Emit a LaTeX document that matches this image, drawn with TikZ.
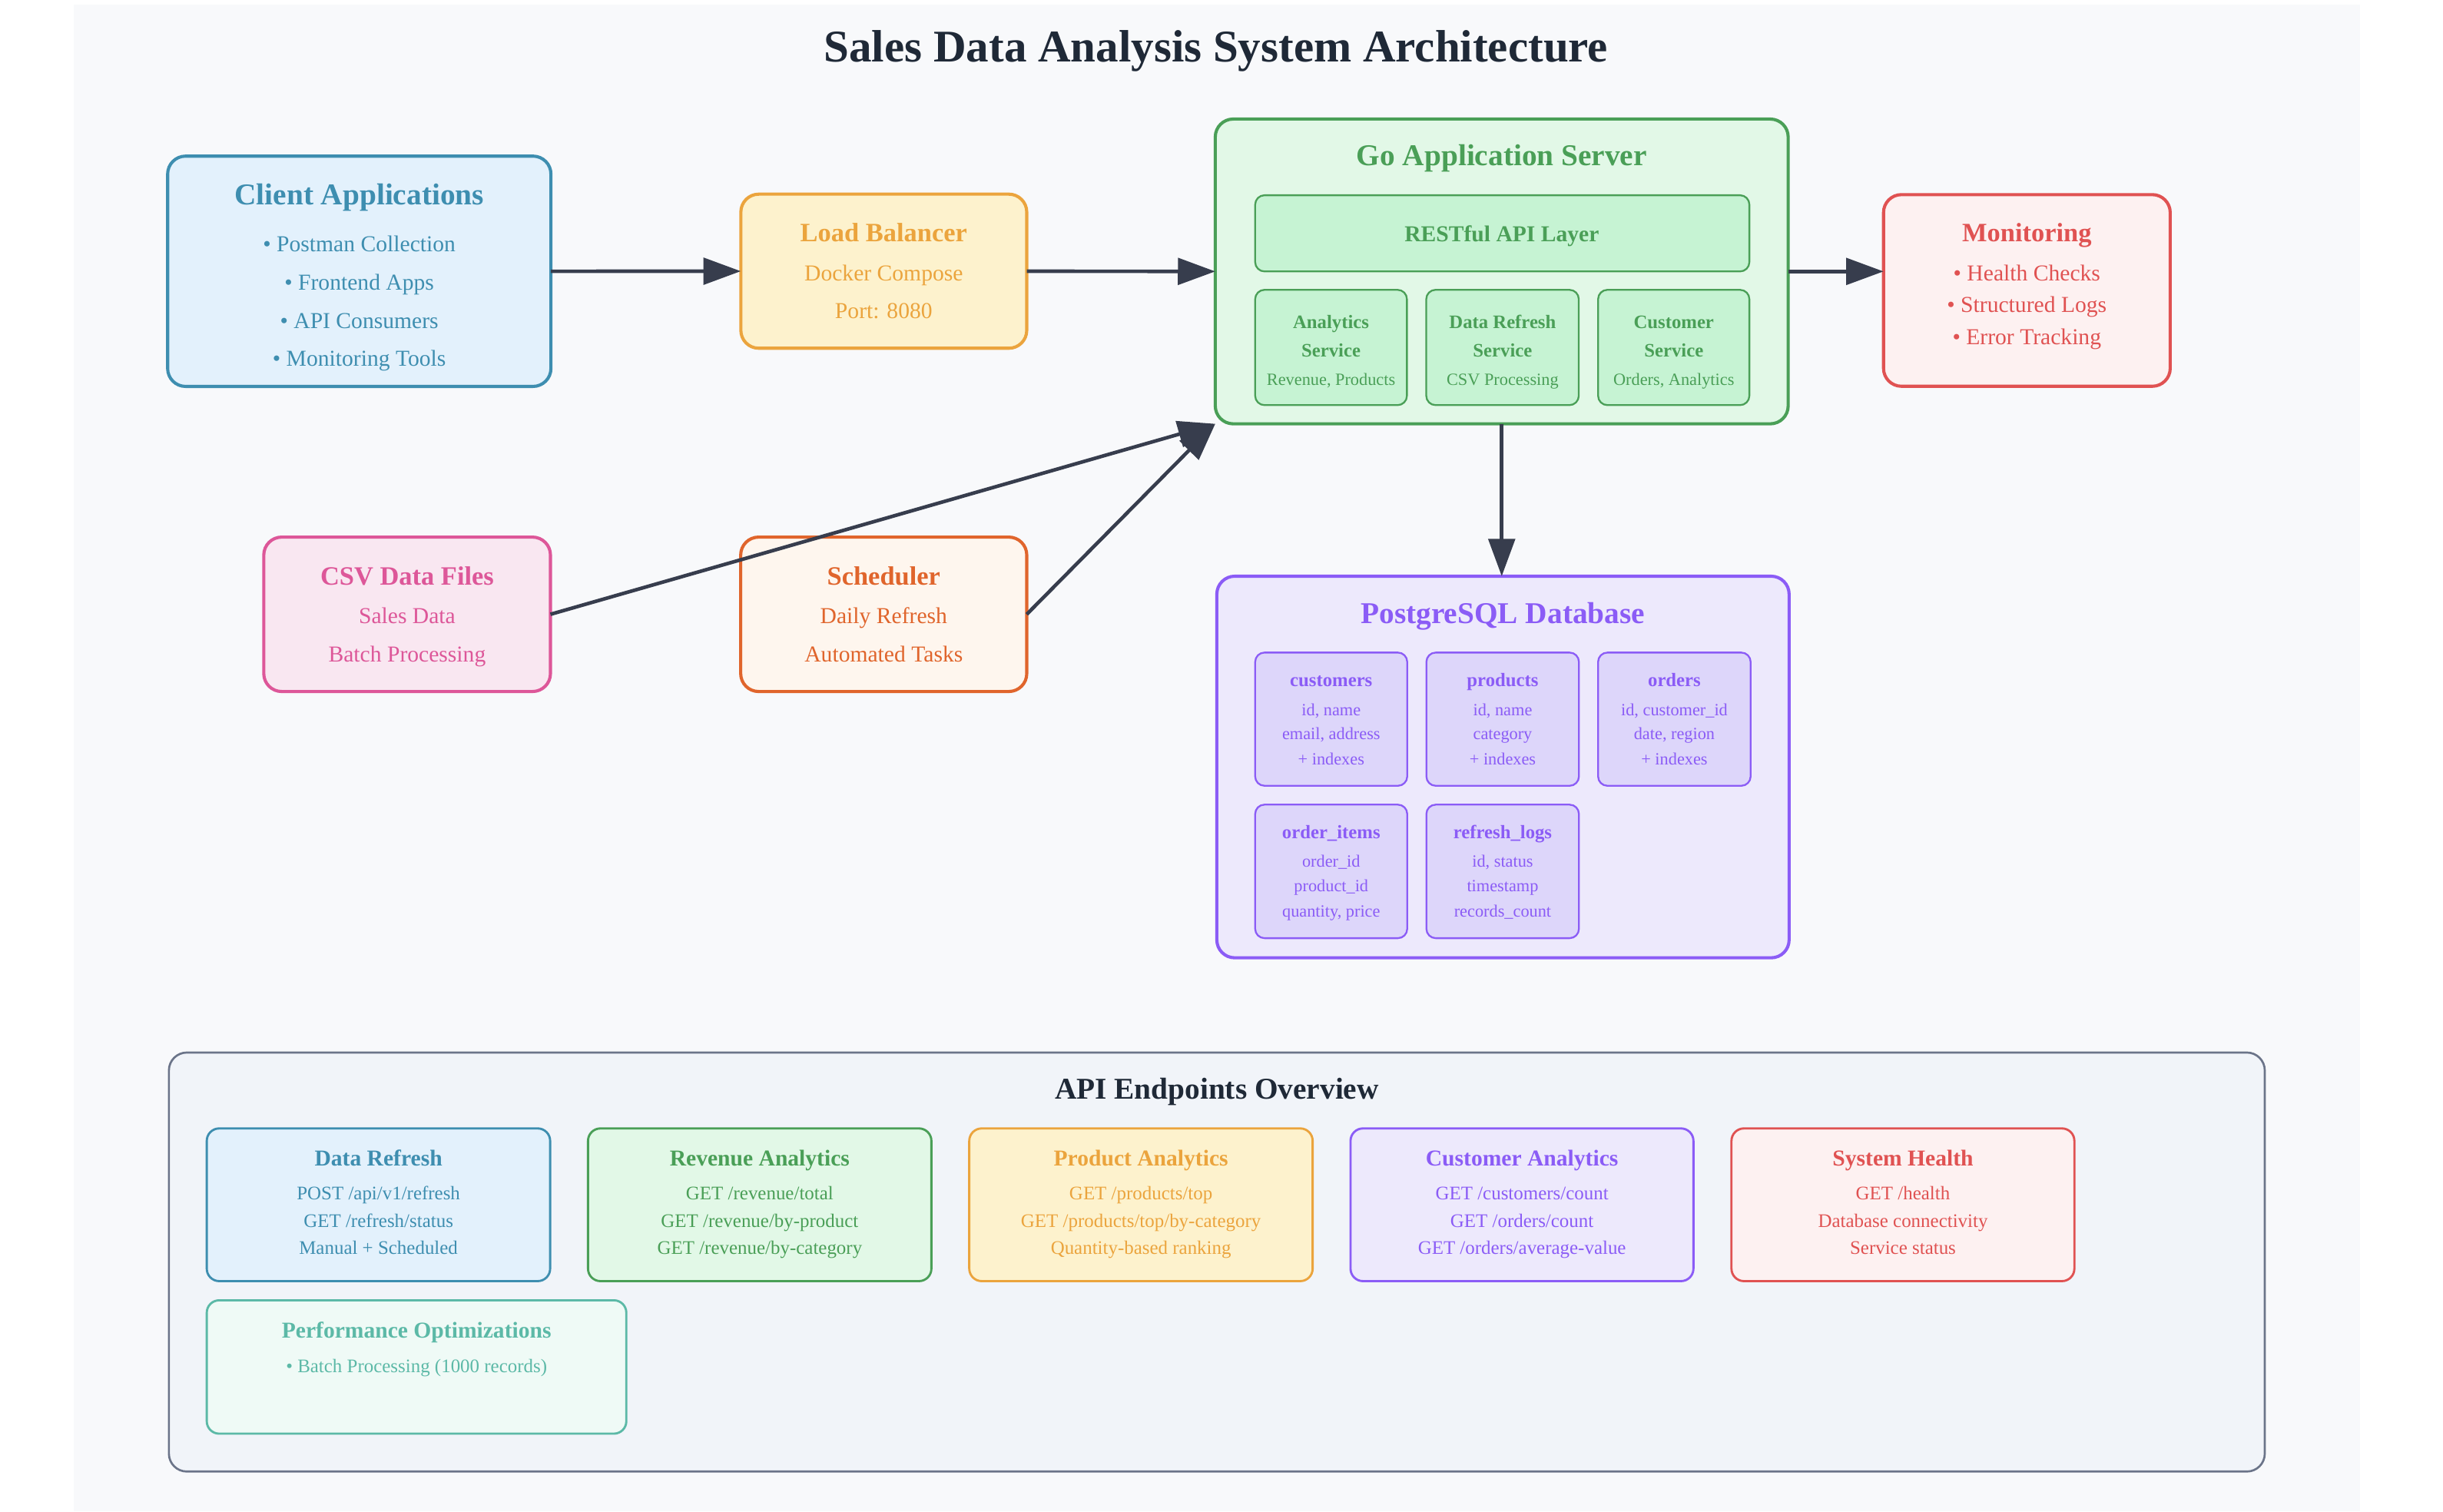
\documentclass[tikz,border=0pt]{standalone}
\usepackage{fontspec}
\setmainfont{Liberation Serif}
\usetikzlibrary{arrows.meta}
\definecolor{cBg}{HTML}{F8F9FB}
\definecolor{cTitle}{HTML}{1F2937}
\definecolor{cArrow}{HTML}{373D4D}
\definecolor{cBlueS}{HTML}{3E8EB0}
\definecolor{cBlueF}{HTML}{E3F1FC}
\definecolor{cOrS}{HTML}{EBA43D}
\definecolor{cOrF}{HTML}{FDF2CD}
\definecolor{cGrS}{HTML}{4A9F57}
\definecolor{cGrF}{HTML}{E2F8E7}
\definecolor{cGrI}{HTML}{C6F3D3}
\definecolor{cRedS}{HTML}{E05252}
\definecolor{cRedF}{HTML}{FDF1F1}
\definecolor{cPkS}{HTML}{DD5799}
\definecolor{cPkF}{HTML}{F9E7F1}
\definecolor{cSchS}{HTML}{E0652C}
\definecolor{cSchF}{HTML}{FEF6EE}
\definecolor{cPuS}{HTML}{8B5CF6}
\definecolor{cPuF}{HTML}{EDE9FC}
\definecolor{cPuI}{HTML}{DDD6FA}
\definecolor{cApiS}{HTML}{6B7489}
\definecolor{cApiF}{HTML}{F1F4F9}
\definecolor{cTeS}{HTML}{5CB9A7}
\definecolor{cTeF}{HTML}{EFFAF6}
\tikzset{
  bigbox/.style={draw, line width=1.15pt, rounded corners=0.23cm},
  innerbox/.style={draw, line width=0.65pt, rounded corners=0.12cm},
  epbox/.style={draw, line width=0.8pt, rounded corners=0.16cm},
  apipanel/.style={draw=cApiS, fill=cApiF, line width=0.75pt, rounded corners=0.23cm},
  txt/.style={anchor=base, inner sep=0pt, outer sep=0pt},
  fT/.style={font=\bfseries\fontsize{16.56pt}{18pt}\selectfont},
  fH/.style={font=\bfseries\fontsize{11.04pt}{13pt}\selectfont},
  fS/.style={font=\bfseries\fontsize{9.67pt}{11pt}\selectfont},
  fB/.style={font=\fontsize{8.31pt}{10pt}\selectfont},
  fBb/.style={font=\bfseries\fontsize{8.3pt}{10pt}\selectfont},
  fM/.style={font=\bfseries\fontsize{6.94pt}{8pt}\selectfont},
  fm/.style={font=\fontsize{6.26pt}{7pt}\selectfont},
  fE/.style={font=\fontsize{7.0pt}{8pt}\selectfont},
  arr/.style={draw=cArrow, line width=1.3pt, -{Triangle[width=0.34cm,length=0.48cm]}},
}
\newcommand\bx[6]{\node[#2, anchor=north west, inner sep=0pt, outer sep=0pt,
  minimum width={(#5-#3)*0.02cm}, minimum height={(#6-#4)*0.02cm}] (#1) at (#3,#4) {};}
\newcommand\T[5]{\node[txt,#2,text=#3] (#1) at (#4) {#5};}
\begin{document}
\begin{tikzpicture}[x=0.02cm,y=-0.02cm]
\useasboundingbox (0,0) rectangle (1568,970);
\fill[white] (0,0) rectangle (1568,970);
\fill[cBg] (47.3,3) rectangle (1514.8,970);

\T{title}{fT}{cTitle}{780.5,39.5}{Sales Data Analysis System Architecture}

% Client applications
\bx{client}{bigbox, draw=cBlueS, fill=cBlueF}{107.6}{100.2}{353.6}{248}
\T{tc0}{fH}{cBlueS}{230.6,131.2}{Client Applications}
\T{tc1}{fB}{cBlueS}{230.6,161.6}{• Postman Collection}
\T{tc2}{fB}{cBlueS}{230.6,186}{• Frontend Apps}
\T{tc3}{fB}{cBlueS}{230.6,210.6}{• API Consumers}
\T{tc4}{fB}{cBlueS}{230.6,235}{• Monitoring Tools}

% Load balancer
\bx{lb}{bigbox, draw=cOrS, fill=cOrF}{475.5}{124.6}{659}{223.5}
\T{tl0}{fS}{cOrS}{567.2,155.3}{Load Balancer}
\T{tl1}{fB}{cOrS}{567.2,180}{Docker Compose}
\T{tl2}{fB}{cOrS}{567.2,204.3}{Port: 8080}

% Go server
\bx{go}{bigbox, draw=cGrS, fill=cGrF}{780}{76.4}{1147.7}{272}
\T{tg0}{fH}{cGrS}{963.9,106.5}{Go Application Server}
\bx{rest}{innerbox, draw=cGrS, fill=cGrI}{805.6}{125.3}{1122.8}{174.2}
\T{tg1}{fBb}{cGrS}{963.9,155.3}{RESTful API Layer}
\bx{svc1}{innerbox, draw=cGrS, fill=cGrI}{805.6}{186}{903}{260}
\bx{svc2}{innerbox, draw=cGrS, fill=cGrI}{915.4}{186}{1013.3}{260}
\bx{svc3}{innerbox, draw=cGrS, fill=cGrI}{1025.7}{186}{1122.8}{260}
\T{ts1a}{fM}{cGrS}{854.3,210.6}{Analytics}
\T{ts1b}{fM}{cGrS}{854.3,228.8}{Service}
\T{ts1c}{fm}{cGrS}{854.3,247.4}{Revenue, Products}
\T{ts2a}{fM}{cGrS}{964.4,210.6}{Data Refresh}
\T{ts2b}{fM}{cGrS}{964.4,228.8}{Service}
\T{ts2c}{fm}{cGrS}{964.4,247.4}{CSV Processing}
\T{ts3a}{fM}{cGrS}{1074.3,210.6}{Customer}
\T{ts3b}{fM}{cGrS}{1074.3,228.8}{Service}
\T{ts3c}{fm}{cGrS}{1074.3,247.4}{Orders, Analytics}

% Monitoring
\bx{mon}{bigbox, draw=cRedS, fill=cRedF}{1208.9}{124.9}{1392.9}{247.9}
\T{tm0}{fS}{cRedS}{1300.9,155.3}{Monitoring}
\T{tm1}{fB}{cRedS}{1300.9,180}{• Health Checks}
\T{tm2}{fB}{cRedS}{1300.9,200.5}{• Structured Logs}
\T{tm3}{fB}{cRedS}{1300.9,221}{• Error Tracking}

% CSV
\bx{csv}{bigbox, draw=cPkS, fill=cPkF}{169.3}{344.7}{353.3}{443.8}
\T{tcs0}{fS}{cPkS}{261.3,375.3}{CSV Data Files}
\T{tcs1}{fB}{cPkS}{261.3,400}{Sales Data}
\T{tcs2}{fB}{cPkS}{261.3,424.6}{Batch Processing}

% Scheduler
\bx{sched}{bigbox, draw=cSchS, fill=cSchF}{475.4}{344.7}{659}{443.8}
\T{tsc0}{fS}{cSchS}{567.2,375.3}{Scheduler}
\T{tsc1}{fB}{cSchS}{567.2,400}{Daily Refresh}
\T{tsc2}{fB}{cSchS}{567.2,424.6}{Automated Tasks}

% Database
\bx{db}{bigbox, draw=cPuS, fill=cPuF}{781}{369.8}{1148.3}{614.7}
\T{td0}{fH}{cPuS}{964.6,400}{PostgreSQL Database}
\bx{tb1}{innerbox, draw=cPuS, fill=cPuI}{805.6}{418.8}{903.2}{504.3}
\bx{tb2}{innerbox, draw=cPuS, fill=cPuI}{915.5}{418.8}{1013.4}{504.3}
\bx{tb3}{innerbox, draw=cPuS, fill=cPuI}{1025.7}{418.8}{1123.6}{504.3}
\bx{tb4}{innerbox, draw=cPuS, fill=cPuI}{805.6}{516.4}{903.2}{602.1}
\bx{tb5}{innerbox, draw=cPuS, fill=cPuI}{915.5}{516.4}{1013.4}{602.1}
\T{tt1a}{fM}{cPuS}{854.4,440.8}{customers}
\T{tt1b}{fm}{cPuS}{854.4,459.1}{id, name}
\T{tt1c}{fm}{cPuS}{854.4,474.7}{email, address}
\T{tt1d}{fm}{cPuS}{854.4,490.8}{+ indexes}
\T{tt2a}{fM}{cPuS}{964.45,440.8}{products}
\T{tt2b}{fm}{cPuS}{964.45,459.1}{id, name}
\T{tt2c}{fm}{cPuS}{964.45,474.7}{category}
\T{tt2d}{fm}{cPuS}{964.45,490.8}{+ indexes}
\T{tt3a}{fM}{cPuS}{1074.65,440.8}{orders}
\T{tt3b}{fm}{cPuS}{1074.65,459.1}{id, customer\_id}
\T{tt3c}{fm}{cPuS}{1074.65,474.7}{date, region}
\T{tt3d}{fm}{cPuS}{1074.65,490.8}{+ indexes}
\T{tt4a}{fM}{cPuS}{854.4,538.3}{order\_items}
\T{tt4b}{fm}{cPuS}{854.4,556.4}{order\_id}
\T{tt4c}{fm}{cPuS}{854.4,572.3}{product\_id}
\T{tt4d}{fm}{cPuS}{854.4,588.4}{quantity, price}
\T{tt5a}{fM}{cPuS}{964.45,538.3}{refresh\_logs}
\T{tt5b}{fm}{cPuS}{964.45,556.4}{id, status}
\T{tt5c}{fm}{cPuS}{964.45,572.3}{timestamp}
\T{tt5d}{fm}{cPuS}{964.45,588.4}{records\_count}

% Arrows
\draw[arr] (client.east) -- (lb.west);
\draw[arr] (lb.east) -- (go.west);
\draw[arr] (go.east) -- (go.east -| mon.west);
\draw[arr] (go.south) -- (go.south |- db.north);
\draw[arr] (csv.east) -- (go.south west);
\draw[arr] (sched.east) -- (go.south west);

% API endpoints panel
\bx{api}{apipanel}{108.4}{675.5}{1453.6}{944.4}
\T{ta0}{fH}{cTitle}{781,705.5}{API Endpoints Overview}

\bx{ep1}{epbox, draw=cBlueS, fill=cBlueF}{132.7}{724.2}{353.1}{822.2}
\T{te1a}{fBb}{cBlueS}{242.9,748.4}{Data Refresh}
\T{te1b}{fE}{cBlueS}{242.9,770}{POST /api/v1/refresh}
\T{te1c}{fE}{cBlueS}{242.9,787.6}{GET /refresh/status}
\T{te1d}{fE}{cBlueS}{242.9,804.9}{Manual + Scheduled}

\bx{ep2}{epbox, draw=cGrS, fill=cGrF}{377.4}{724.2}{597.8}{822.2}
\T{te2a}{fBb}{cGrS}{487.6,748.4}{Revenue Analytics}
\T{te2b}{fE}{cGrS}{487.6,770}{GET /revenue/total}
\T{te2c}{fE}{cGrS}{487.6,787.6}{GET /revenue/by-product}
\T{te2d}{fE}{cGrS}{487.6,804.9}{GET /revenue/by-category}

\bx{ep3}{epbox, draw=cOrS, fill=cOrF}{622.1}{724.2}{842.5}{822.2}
\T{te3a}{fBb}{cOrS}{732.3,748.4}{Product Analytics}
\T{te3b}{fE}{cOrS}{732.3,770}{GET /products/top}
\T{te3c}{fE}{cOrS}{732.3,787.6}{GET /products/top/by-category}
\T{te3d}{fE}{cOrS}{732.3,804.9}{Quantity-based ranking}

\bx{ep4}{epbox, draw=cPuS, fill=cPuF}{866.8}{724.2}{1086.9}{822.2}
\T{te4a}{fBb}{cPuS}{976.85,748.4}{Customer Analytics}
\T{te4b}{fE}{cPuS}{976.85,770}{GET /customers/count}
\T{te4c}{fE}{cPuS}{976.85,787.6}{GET /orders/count}
\T{te4d}{fE}{cPuS}{976.85,804.9}{GET /orders/average-value}

\bx{ep5}{epbox, draw=cRedS, fill=cRedF}{1111.3}{724.2}{1331.4}{822.2}
\T{te5a}{fBb}{cRedS}{1221.35,748.4}{System Health}
\T{te5b}{fE}{cRedS}{1221.35,770}{GET /health}
\T{te5c}{fE}{cRedS}{1221.35,787.6}{Database connectivity}
\T{te5d}{fE}{cRedS}{1221.35,804.9}{Service status}

\bx{ep6}{epbox, draw=cTeS, fill=cTeF}{132.7}{834.5}{402}{920.1}
\T{te6a}{fBb}{cTeS}{267.35,858.8}{Performance Optimizations}
\T{te6b}{fE}{cTeS}{267.35,881}{• Batch Processing (1000 records)}
\end{tikzpicture}
\end{document}
